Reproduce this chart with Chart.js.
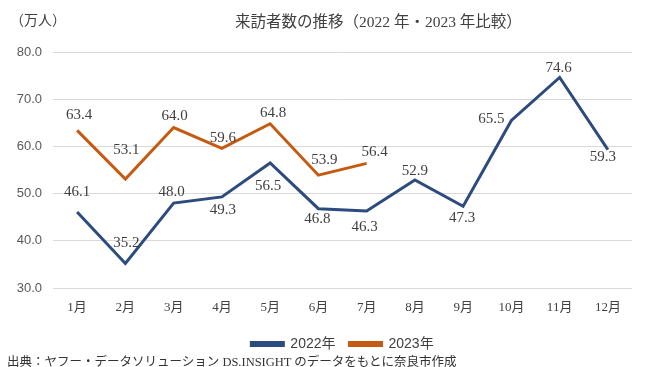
<!DOCTYPE html>
<html lang="ja">
<head>
<meta charset="utf-8">
<script src="https://cdn.jsdelivr.net/npm/chart.js@4.4.0/dist/chart.umd.min.js"></script>
<style>
    body { margin: 0; background: #fff; }
    #wrap { position: relative; width: 650px; height: 367px; }
    #wrap canvas { position: absolute; left: 0; top: 0; }
    .txt { position: absolute; white-space: nowrap; color: #404040; font-family: "Liberation Serif", "Noto Sans CJK JP", serif; }
    #title { left: 235px; top: 9px; font-size: 15.5px; }
    #unit { left: 10px; top: 9px; font-size: 14px; }
    #source { left: 7px; top: 351px; font-size: 12.5px; color: #333; }
</style>
</head>
<body>
<div id="wrap">
    <canvas id="chart" width="650" height="367"></canvas>
    <div class="txt" id="unit">（万人）</div>
    <div class="txt" id="title">来訪者数の推移（2022 年・2023 年比較）</div>
    <div class="txt" id="source">出典：ヤフー・データソリューション DS.INSIGHT のデータをもとに奈良市作成</div>
</div>
<script>
// chart data
const months = ['1月', '2月', '3月', '4月', '5月', '6月', '7月', '8月', '9月', '10月', '11月', '12月'];
const visitors2022 = [46.1, 35.2, 48.0, 49.3, 56.5, 46.8, 46.3, 52.9, 47.3, 65.5, 74.6, 59.3];
const visitors2023 = [63.4, 53.1, 64.0, 59.6, 64.8, 53.9, 56.4];
const yTicks = [30, 40, 50, 60, 70, 80];

// where each value label sits relative to its point (dx, dy)
const labelOffsets = [
    [[0, -20], [1, -20], [-2, -11], [1, 13], [-2, 23], [-1, 10], [-2, 16], [0, -9], [-1, 12], [-20, -1], [-1, -9], [-5, 7]],
    [[2, -15], [1, -29], [1, -11], [1, -10], [3, -11], [6, -15], [8, -11]]
];

const serif = '"Liberation Serif", "Noto Sans CJK JP", serif';
const sans = '"Liberation Sans", Arial, "Noto Sans CJK JP", sans-serif';

const valueLabels = {
    id: 'valueLabels',
    afterDatasetsDraw(chart) {
        const ctx = chart.ctx;
        ctx.save();
        ctx.font = '15px ' + serif;
        ctx.fillStyle = '#404040';
        ctx.textAlign = 'center';
        ctx.textBaseline = 'middle';
        chart.data.datasets.forEach((ds, di) => {
            const meta = chart.getDatasetMeta(di);
            meta.data.forEach((pt, i) => {
                const v = ds.data[i];
                if (v === undefined || v === null) return;
                const off = labelOffsets[di][i] || [0, -12];
                ctx.fillText(v.toFixed(1), pt.x + off[0], pt.y + off[1]);
            });
        });
        ctx.restore();
    }
};

const ctx = document.getElementById('chart').getContext('2d');

new Chart(ctx, {
    type: 'line',
    data: {
        labels: months,
        datasets: [
            {
                label: '2022年',
                data: visitors2022,
                borderColor: '#2E4B7E',
                backgroundColor: '#2E4B7E',
                borderWidth: 3,
                pointRadius: 0,
                tension: 0
            },
            {
                label: '2023年',
                data: visitors2023,
                borderColor: '#C55A11',
                backgroundColor: '#C55A11',
                borderWidth: 3,
                pointRadius: 0,
                tension: 0
            }
        ]
    },
    options: {
        responsive: false,
        animation: false,
        layout: {
            padding: { left: 0, right: 18, top: 52, bottom: 6 }
        },
        scales: {
            x: {
                offset: true,
                afterFit(scale) { scale.height = 35; },
                grid: { display: false, drawTicks: false },
                border: { display: false },
                ticks: {
                    color: '#404040',
                    font: { family: serif, size: 13 },
                    padding: 12
                }
            },
            y: {
                min: 30,
                max: 80,
                afterFit(scale) { scale.width = 53; },
                afterBuildTicks(scale) { scale.ticks = yTicks.map(v => ({ value: v })); },
                grid: { color: '#D9D9D9', drawTicks: false },
                border: { display: false },
                ticks: {
                    color: '#595959',
                    font: { family: sans, size: 13 },
                    padding: 11,
                    callback: v => v.toFixed(1)
                }
            }
        },
        plugins: {
            legend: {
                position: 'bottom',
                fullSize: false,
                labels: {
                    color: '#404040',
                    font: { family: sans, size: 14 },
                    boxWidth: 32,
                    boxHeight: 3,
                    padding: 14
                }
            },
            tooltip: { enabled: false }
        }
    },
    plugins: [valueLabels]
});
</script>
</body>
</html>
